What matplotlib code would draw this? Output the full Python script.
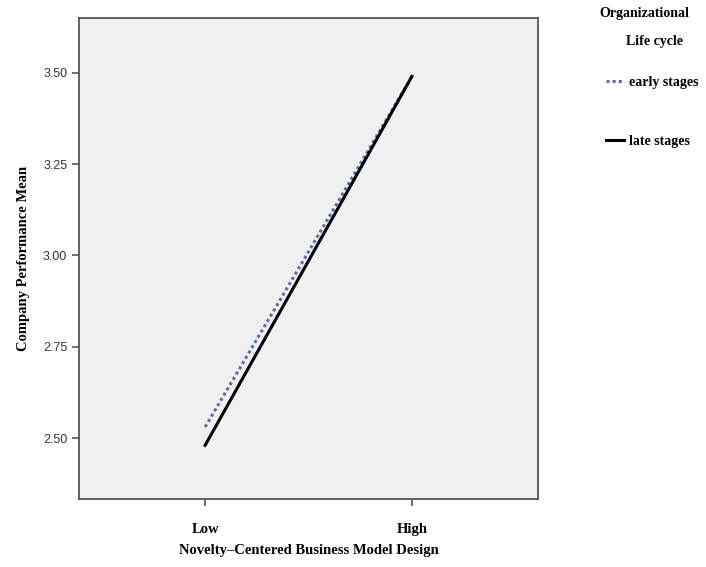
import matplotlib
matplotlib.use("Agg")
import matplotlib.pyplot as plt

# data
levels = ["Low", "High"]
early_stages = [2.53, 3.49]
late_stages = [2.48, 3.49]

fig = plt.figure(figsize=(7.06, 5.67), dpi=100)
ax = fig.add_axes([79 / 706, 1 - 499 / 567, (538 - 79) / 706, (499 - 18) / 567])
ax.set_facecolor("#f0f0f0")

x = list(range(len(levels)))
ax.plot(x, early_stages, color="#5b6bb5", linestyle=(0, (1, 1)), linewidth=2.2, label="early stages")
ax.plot(x, late_stages, color="black", linewidth=2.2, label="late stages")

ax.set_xlim(-0.61, 1.61)
ax.set_ylim(2.333, 3.65)
ax.set_xticks(x)
ax.set_xticklabels(levels, family="Liberation Serif", fontweight="bold", fontsize=10.5)
ax.set_yticks([2.5, 2.75, 3.0, 3.25, 3.5])
ax.set_yticklabels(["2.50", "2.75", "3.00", "3.25", "3.50"], family="Liberation Sans", fontsize=9, color="#333333")
ax.tick_params(axis="both", color="#555555", length=5, width=1.2)
ax.tick_params(axis="x", pad=12)
for s in ax.spines.values():
    s.set_color("#555555")
    s.set_linewidth(1.3)

ax.set_xlabel("Novelty\u2013Centered Business Model Design", family="Liberation Serif",
              fontweight="bold", fontsize=10.5, labelpad=6)
ax.set_ylabel("Company Performance Mean", family="Liberation Serif",
              fontweight="bold", fontsize=10.5, labelpad=9)

# legend outside to the right
fig.text(644 / 706, 1 - 14 / 567, "Organizational", family="Liberation Serif",
         fontweight="bold", fontsize=10, ha="center", va="center")
fig.text(655 / 706, 1 - 41 / 567, "Life cycle", family="Liberation Serif",
         fontweight="bold", fontsize=10, ha="center", va="center")
handles, labels = ax.get_legend_handles_labels()
fig.legend(handles, labels, loc="upper left", bbox_to_anchor=(593 / 706, 1 - 63 / 567),
           frameon=False, handlelength=1.3, handletextpad=0.4, labelspacing=3.35,
           prop={"family": "Liberation Serif", "weight": "bold", "size": 10})

fig.savefig("out.png", dpi=100)
